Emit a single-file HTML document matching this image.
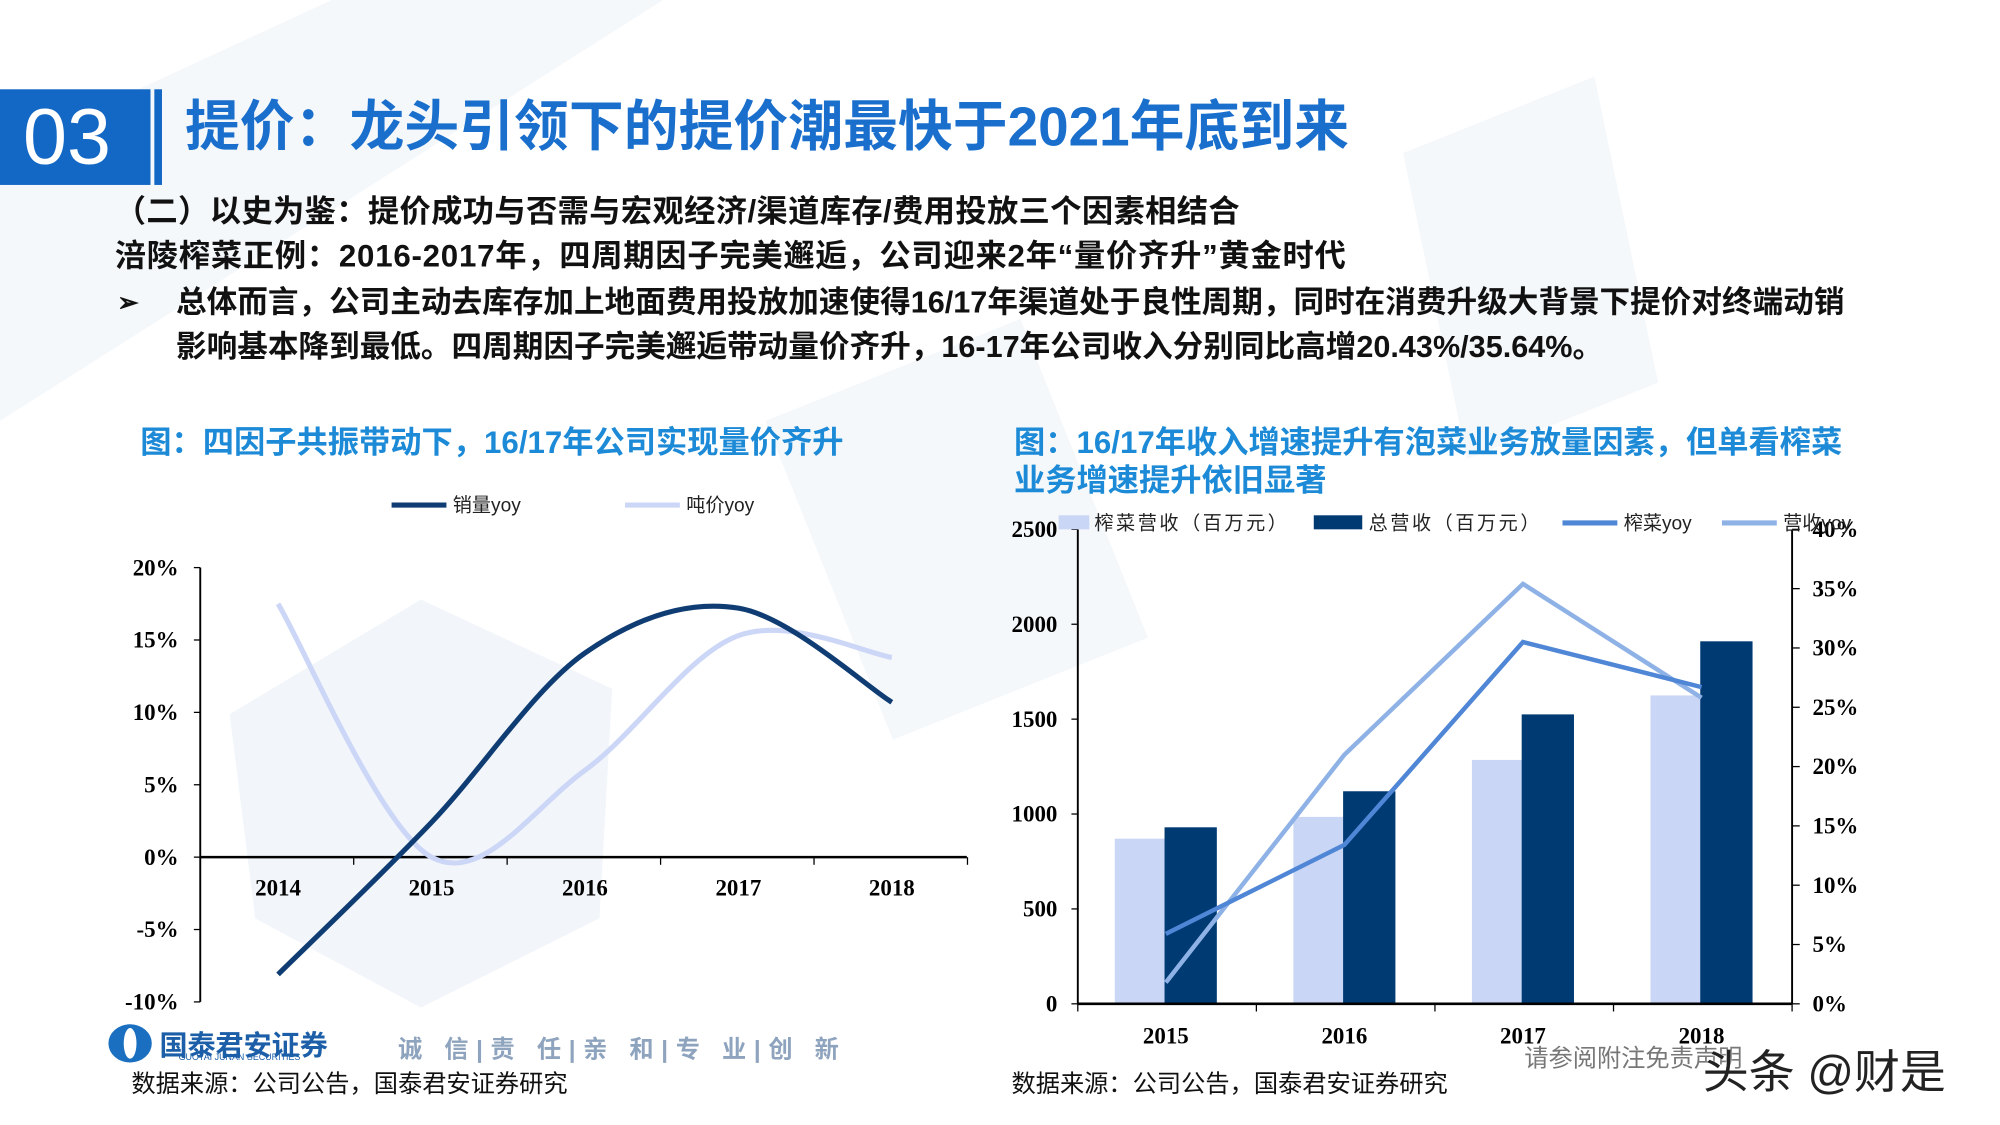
<!DOCTYPE html>
<html><head><meta charset="utf-8">
<style>
body{margin:0;width:2000px;height:1125px;overflow:hidden;background:#fff;font-family:"Liberation Sans","Noto Sans CJK SC",sans-serif;}
#wrap{position:absolute;left:0;top:0;width:1568px;height:882px;transform:scale(1.27551);transform-origin:0 0;background:#fff;}
.abs{position:absolute;white-space:nowrap;}
.b{font-weight:bold;}
</style></head><body>
<div id="wrap">
<svg class="abs" style="left:0;top:0" width="1568" height="882">
<polygon points="180,560 330,470 480,540 470,720 330,790 200,720" fill="#edf2f8" opacity="0.7"/>
<polygon points="0,120 260,0 520,0 0,330" fill="#f5f8fb"/>
<polygon points="600,330 800,250 900,500 700,580" fill="#f3f6fa" opacity="0.8"/>
<polygon points="1100,120 1250,60 1300,300 1150,360" fill="#f3f6fa" opacity="0.8"/>
</svg>
<div class="abs" style="left:0;top:70px;width:118px;height:75px;background:#1468c5"></div>
<div class="abs" style="left:18px;top:72px;font-size:62px;color:#fff;line-height:72px">03</div>
<div class="abs" style="left:121px;top:70px;width:6px;height:75px;background:#1468c5"></div>
<div class="abs b" style="left:145px;top:74px;font-size:43px;color:#1a6fcd;line-height:52px">提价：龙头引领下的提价潮最快于2021年底到来</div>
<div class="abs b" style="left:90px;top:152px;font-size:24.5px;color:#111;line-height:30px;letter-spacing:0.3px">（二）以史为鉴：提价成功与否需与宏观经济/渠道库存/费用投放三个因素相结合</div>
<div class="abs b" style="left:90px;top:187px;font-size:24.5px;color:#111;line-height:30px;letter-spacing:0.6px">涪陵榨菜正例：2016-2017年，四周期因子完美邂逅，公司迎来2年“量价齐升”黄金时代</div>
<div class="abs b" style="left:92px;top:223px;font-size:20px;color:#111;line-height:30px">➢</div>
<div class="abs b" style="left:138px;top:220px;font-size:24px;color:#111;line-height:35px;white-space:normal;width:1320px">总体而言，公司主动去库存加上地面费用投放加速使得16/17年渠道处于良性周期，同时在消费升级大背景下提价对终端动销影响基本降到最低。四周期因子完美邂逅带动量价齐升，16-17年公司收入分别同比高增20.43%/35.64%。</div>

<div class="abs b" style="left:110px;top:333px;font-size:24.5px;color:#1c8ad6;line-height:30px">图：四因子共振带动下，16/17年公司实现量价齐升</div>
<div class="abs b" style="left:795px;top:333px;font-size:24.5px;color:#1c8ad6;line-height:30px">图：16/17年收入增速提升有泡菜业务放量因素，但单看榨菜<br>业务增速提升依旧显著</div>

<svg id="c1" class="abs" style="left:0;top:0" width="1568" height="882"></svg>
<svg id="c2" class="abs" style="left:0;top:0" width="1568" height="882"></svg>

<div class="abs" style="left:85px;top:803px;width:34px;height:30px;border-radius:50%;background:#1a6fc0"></div>
<div class="abs" style="left:97px;top:806px;width:10px;height:24px;border-radius:50%;background:#fff"></div>
<div class="abs b" style="left:125px;top:802px;font-size:22px;color:#1c5fa8">国泰君安证券</div>
<div class="abs" style="left:140px;top:826px;font-size:7px;color:#1c5fa8">GUOTAI JUNAN SECURITIES</div>
<div class="abs b" style="left:312px;top:808px;font-size:19px;color:#8ea3bd;letter-spacing:6px">诚 信|责 任|亲 和|专 业|创 新</div>
<div class="abs" style="left:103px;top:835px;font-size:19px;color:#111">数据来源：公司公告，国泰君安证券研究</div>
<div class="abs" style="left:793px;top:835px;font-size:19px;color:#111">数据来源：公司公告，国泰君安证券研究</div>
<div class="abs" style="left:1195px;top:815px;font-size:19px;color:#777">请参阅附注免责声明</div>
<div class="abs" style="left:1335px;top:812px;font-size:36px;color:#222;text-shadow:0 0 3px #fff">头条 @财是</div>
</div>
<script>
// Left chart data
const years1=["2014","2015","2016","2017","2018"];
const salesYoy=[-8.1,2.4,14.1,17.2,10.7];
const priceYoy=[17.5,0.0,6.0,15.3,13.8];
const yTicks1=[20,15,10,5,0,-5,-10];
// Right chart data
const years2=["2015","2016","2017","2018"];
const zhacaiRev=[870,985,1285,1625];
const totalRev=[930,1120,1525,1910];
const zhacaiYoy=[5.9,13.4,30.5,26.7];
const revYoy=[1.8,21.0,35.4,25.8];
const yTicksL=[0,500,1000,1500,2000,2500];
const yTicksR=[0,5,10,15,20,25,30,35,40];

const NS="http://www.w3.org/2000/svg";
function mk(svg,tag,attrs,text){const e=document.createElementNS(NS,tag);for(const k in attrs)e.setAttribute(k,attrs[k]);if(text!==undefined)e.textContent=text;svg.appendChild(e);return e;}
function smooth(pts){let d="M"+pts[0][0]+","+pts[0][1];for(let i=0;i<pts.length-1;i++){const p0=pts[i-1]||pts[i],p1=pts[i],p2=pts[i+1],p3=pts[i+2]||p2;const c1=[p1[0]+(p2[0]-p0[0])/6,p1[1]+(p2[1]-p0[1])/6],c2=[p2[0]-(p3[0]-p1[0])/6,p2[1]-(p3[1]-p1[1])/6];d+=" C"+c1+" "+c2+" "+p2;}return d;}

// ---- Left chart
const s1=document.getElementById('c1');
const X1=i=>218+i*120.3, Y1=v=>672-v*11.35;
let a=mk(s1,'line',{x1:157,y1:Y1(20),x2:157,y2:Y1(-10),stroke:'#000','stroke-width':1.5});

a=mk(s1,'line',{x1:157,y1:Y1(0),x2:758,y2:Y1(0),stroke:'#000','stroke-width':2});

yTicks1.forEach(v=>{mk(s1,'line',{x1:152,y1:Y1(v),x2:157,y2:Y1(v),stroke:'#000'});
 const t=mk(s1,'text',{x:140,y:Y1(v)+6,'text-anchor':'end','font-family':'Liberation Serif,serif','font-weight':'bold','font-size':18},v+'%');
 });
for(let i=0;i<=5;i++){mk(s1,'line',{x1:157+i*120.3,y1:Y1(0),x2:157+i*120.3,y2:Y1(0)+6,stroke:'#000'});}
years1.forEach((y,i)=>{const t=mk(s1,'text',{x:X1(i),y:702,'text-anchor':'middle','font-family':'Liberation Serif,serif','font-weight':'bold','font-size':18},y);
 });
let p=mk(s1,'path',{d:smooth(priceYoy.map((v,i)=>[X1(i),Y1(v)])),fill:'none',stroke:'#ccd6f6','stroke-width':4});

p=mk(s1,'path',{d:smooth(salesYoy.map((v,i)=>[X1(i),Y1(v)])),fill:'none',stroke:'#0f3d73','stroke-width':4});

mk(s1,'line',{x1:307,y1:396,x2:350,y2:396,stroke:'#0f3d73','stroke-width':4});
let lt=mk(s1,'text',{x:355,y:401,'font-size':15,fill:'#222'},'销量yoy');

mk(s1,'line',{x1:490,y1:396,x2:533,y2:396,stroke:'#ccd6f6','stroke-width':4});
lt=mk(s1,'text',{x:538,y:401,'font-size':15,fill:'#222'},'吨价yoy');


// ---- Right chart
const s2=document.getElementById('c2');
const X2=i=>914+i*140, YL=v=>787-v*0.1488, YR=v=>787-v*9.3;
yTicksL.forEach(v=>{mk(s2,'line',{x1:840,y1:YL(v),x2:845,y2:YL(v),stroke:'#000'});
 const t=mk(s2,'text',{x:829,y:YL(v)+6,'text-anchor':'end','font-family':'Liberation Serif,serif','font-weight':'bold','font-size':18},v);
 });
yTicksR.forEach(v=>{mk(s2,'line',{x1:1405,y1:YR(v),x2:1411,y2:YR(v),stroke:'#000'});
 const t=mk(s2,'text',{x:1421,y:YR(v)+6,'font-family':'Liberation Serif,serif','font-weight':'bold','font-size':18},v+'%');
 });
zhacaiRev.forEach((v,i)=>{const r=mk(s2,'rect',{x:X2(i)-40,y:YL(v),width:40,height:787-YL(v),fill:'#c9d6f5'});
 });
totalRev.forEach((v,i)=>{const r=mk(s2,'rect',{x:X2(i)-1,y:YL(v),width:41,height:787-YL(v),fill:'#003a73'});
 });
a=mk(s2,'line',{x1:845,y1:YL(2500),x2:845,y2:787,stroke:'#000','stroke-width':1.5});

a=mk(s2,'line',{x1:1405,y1:YR(40),x2:1405,y2:787,stroke:'#000','stroke-width':1.5});

a=mk(s2,'line',{x1:845,y1:787,x2:1405,y2:787,stroke:'#000','stroke-width':2});

for(let i=0;i<=4;i++)mk(s2,'line',{x1:845+i*140,y1:787,x2:845+i*140,y2:793,stroke:'#000'});
years2.forEach((y,i)=>{const t=mk(s2,'text',{x:X2(i),y:818,'text-anchor':'middle','font-family':'Liberation Serif,serif','font-weight':'bold','font-size':18},y);
 });
p=mk(s2,'polyline',{points:revYoy.map((v,i)=>X2(i)+','+YR(v)).join(' '),fill:'none',stroke:'#8fb2e6','stroke-width':3.5});

p=mk(s2,'polyline',{points:zhacaiYoy.map((v,i)=>X2(i)+','+YR(v)).join(' '),fill:'none',stroke:'#4f86d6','stroke-width':3.5});

mk(s2,'rect',{x:830,y:404,width:24,height:11,fill:'#c9d6f5'});
lt=mk(s2,'text',{x:858,y:415,'font-size':15,fill:'#222','letter-spacing':2},'榨菜营收（百万元）');

mk(s2,'rect',{x:1030,y:404,width:38,height:11,fill:'#003a73'});
lt=mk(s2,'text',{x:1073,y:415,'font-size':15,fill:'#222','letter-spacing':2},'总营收（百万元）');

mk(s2,'line',{x1:1225,y1:410,x2:1268,y2:410,stroke:'#4f86d6','stroke-width':4});
lt=mk(s2,'text',{x:1273,y:415,'font-size':15,fill:'#222'},'榨菜yoy');

mk(s2,'line',{x1:1350,y1:410,x2:1393,y2:410,stroke:'#8fb2e6','stroke-width':4});
lt=mk(s2,'text',{x:1398,y:415,'font-size':15,fill:'#222'},'营收yoy');

</script>
</body></html>
